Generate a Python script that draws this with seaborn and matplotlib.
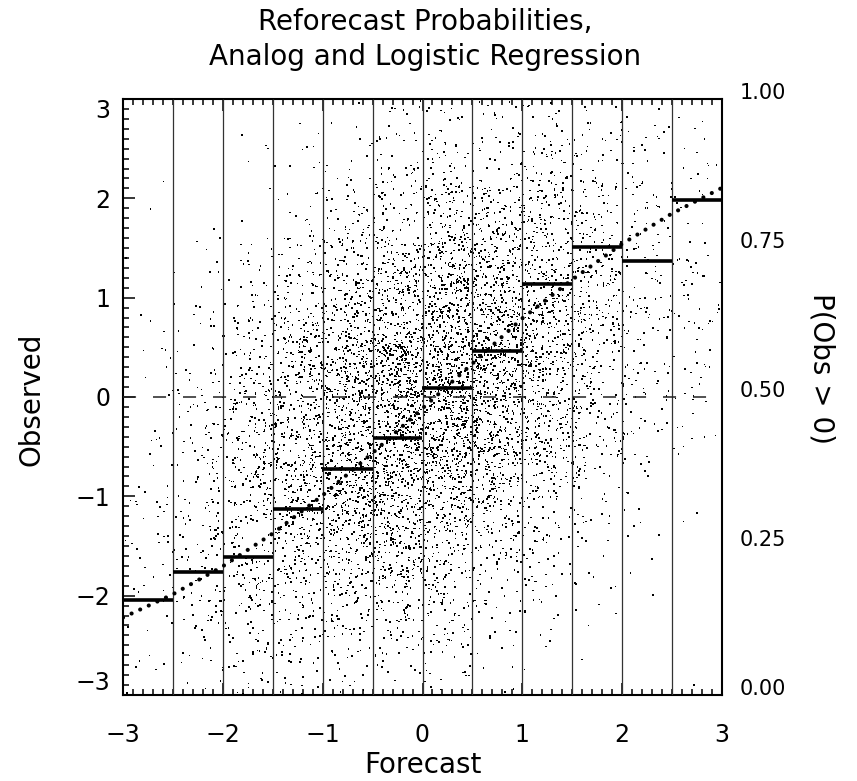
import numpy as np
import pandas as pd
import matplotlib
matplotlib.use("Agg")
import matplotlib.pyplot as plt
import seaborn as sns
from matplotlib.ticker import MultipleLocator, FixedLocator

# ---------------- data ----------------
bin_edges = [-3.0, -2.5, -2.0, -1.5, -1.0, -0.5, 0.0, 0.5, 1.0, 1.5, 2.0, 2.5, 3.0]
# analog (binned) probability P(Obs > 0) for each forecast bin
analog_prob = [0.159, 0.207, 0.231, 0.312, 0.379, 0.432,
               0.515, 0.577, 0.690, 0.751, 0.728, 0.831]
# logistic-regression probability
logit_x = [-3.0, -2.5, -2.0, -1.5, -1.0, -0.5, 0.0, 0.5, 1.0, 1.5, 2.0, 2.5, 3.0]
logit_prob = [0.130, 0.169, 0.216, 0.271, 0.335, 0.406, 0.481,
              0.556, 0.632, 0.697, 0.757, 0.808, 0.851]

x_ticks = [-3, -2, -1, 0, 1, 2, 3]
x_labels = ["\u22123", "\u22122", "\u22121", "0", "1", "2", "3"]
y_ticks = [-3, -2, -1, 0, 1, 2, 3]
y_labels = ["\u22123", "\u22122", "\u22121", "0", "1", "2", "3"]
prob_ticks = [0.0, 0.25, 0.5, 0.75, 1.0]
prob_labels = ["0.00", "0.25", "0.50", "0.75", "1.00"]

# The reforecast/observation cloud holds thousands of unreadable dots; it is
# approximated by a seeded sample with spread and tilt estimated from the picture.
n_points = 8000
forecast_sd = 1.15
obs_slope = 0.42
obs_noise_sd = 1.2
rng = np.random.default_rng(11)
fc = rng.normal(0.0, forecast_sd, n_points)
ob = obs_slope * fc + rng.normal(0.0, obs_noise_sd, n_points)
cloud = pd.DataFrame({"Forecast": fc, "Observed": ob})

# ---------------- styling ----------------
sns.set_theme(style="ticks", rc={
    "text.color": "black", "axes.labelcolor": "black",
    "xtick.color": "black", "ytick.color": "black",
    "axes.edgecolor": "black",
})
plt.rcParams["font.family"] = ["DejaVu Sans"]
plt.rcParams["lines.scale_dashes"] = False
plt.rcParams["axes.linewidth"] = 1.5

W, H = 857, 781
fig = plt.figure(figsize=(W / 100, H / 100), dpi=100)
fig.patch.set_facecolor("white")
ax = fig.add_axes([123 / W, 1 - 695 / H, 599 / W, 596 / H])
ax.set_facecolor("white")

sns.scatterplot(data=cloud, x="Forecast", y="Observed", ax=ax, color="black",
                marker="s", s=1.3, linewidth=0, edgecolor="none", zorder=2)

ax.vlines(bin_edges[1:-1], -3, 3, color="#333333", lw=0.9, zorder=3)
ax.axhline(0, color="#222222", lw=1.1, dashes=(9.4, 12.2), zorder=3)

ax.set_xlim(-3, 3)
ax.set_ylim(-3, 3)
ax.set_xlabel("")
ax.set_ylabel("")
ax.xaxis.set_major_locator(FixedLocator(x_ticks))
ax.yaxis.set_major_locator(FixedLocator(y_ticks))
ax.set_xticklabels(x_labels)
ax.set_yticklabels(y_labels)
ax.xaxis.set_minor_locator(MultipleLocator(0.1))
ax.yaxis.set_minor_locator(MultipleLocator(0.1))
ax.tick_params(which="both", direction="in", top=True, right=True,
               width=1.1, color="black")
ax.tick_params(which="major", length=8.6)
ax.tick_params(which="minor", length=4.3)
ax.tick_params(axis="x", which="major", labelsize=17, pad=20)
ax.tick_params(axis="y", which="major", labelsize=17, pad=9)
for s in ax.spines.values():
    s.set_visible(True)
    s.set_color("black")

ylabs = ax.get_yticklabels()
ylabs[0].set_va("bottom")
ylabs[-1].set_va("top")

# probability axis on the right
ax2 = ax.twinx()
ax2.set_ylim(0, 1)
ax2.yaxis.set_major_locator(FixedLocator(prob_ticks))
ax2.set_yticklabels(prob_labels)
ax2.tick_params(axis="y", length=0, labelsize=15, pad=13, labelcolor="black")
for lab in ax2.get_yticklabels():
    lab.set_va("baseline")
for s in ax2.spines.values():
    s.set_visible(False)

ax2.hlines(analog_prob, bin_edges[:-1], bin_edges[1:], color="black",
           lw=2.6, zorder=5)
sns.lineplot(x=logit_x, y=logit_prob, ax=ax2, color="black", lw=3.0,
             dashes=False, zorder=6)
ax2.lines[-1].set_dashes((0.02, 6.8))
ax2.lines[-1].set_dash_capstyle("round")
ax2.set_xlim(-3, 3)

# texts
fig.text(425 / W, 1 - 39.5 / H, "Reforecast Probabilities,\nAnalog and Logistic Regression",
         ha="center", va="center", fontsize=20, linespacing=1.3, color="black")
fig.text(423 / W, 1 - 765 / H, "Forecast", ha="center", va="center",
         fontsize=20, color="black")
fig.text(32 / W, 1 - 399 / H, "Observed", ha="center", va="center",
         rotation=90, fontsize=20, color="black")
fig.text(822 / W, 1 - 368 / H, "P(Obs > 0)", ha="center", va="center",
         rotation=270, fontsize=20, color="black")

fig.savefig("out.png", dpi=100, facecolor="white")
